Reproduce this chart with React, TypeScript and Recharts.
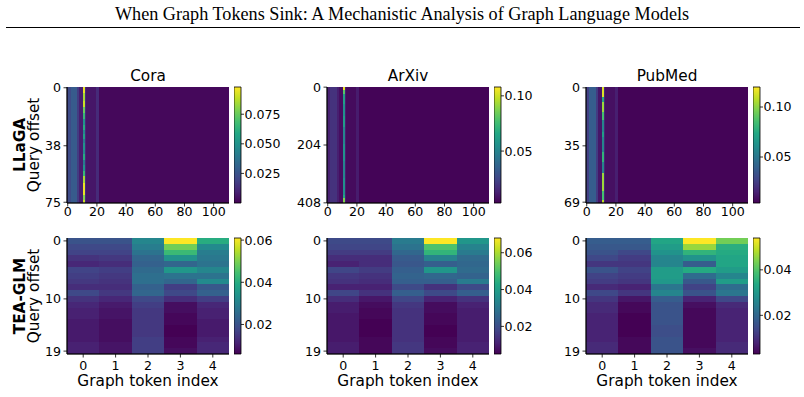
import { ComposedChart, XAxis, YAxis, ReferenceArea, ReferenceLine } from 'recharts';

// viridis colormap stops
const VIRIDIS = ['#440154', '#482475', '#414487', '#355f8d', '#2a788e', '#21918c', '#22a884', '#44bf70', '#7ad151', '#bddf26', '#fde725'];

// ---- LLaGA (top row): column bands [firstCol, lastCol, value]
const coraCols = [
  [0, 0, 0.017], [1, 2, 0.022], [3, 6, 0.028], [7, 7, 0.017], [8, 10, 0.008], [11, 11, 0.06],
  [12, 12, 0.012], [13, 19, 0.006], [20, 21, 0.012], [22, 110, 0.002],
];
const arxivCols = [
  [0, 1, 0.013], [2, 6, 0.018], [7, 7, 0.012], [8, 10, 0.007], [11, 11, 0.06],
  [12, 12, 0.012], [13, 19, 0.006], [20, 21, 0.011], [22, 110, 0.004],
];
const pubmedCols = [
  [0, 1, 0.026], [2, 6, 0.038], [7, 7, 0.024], [8, 10, 0.011], [11, 11, 0.08],
  [12, 12, 0.016], [13, 19, 0.009], [20, 21, 0.014], [22, 110, 0.005],
];

// sink token column (index 11): [firstRow, lastRow, value]
const coraSink = [
  [0, 3, 0.095], [4, 8, 0.085], [9, 12, 0.09], [13, 16, 0.075], [17, 20, 0.065], [21, 24, 0.05],
  [25, 27, 0.06], [28, 30, 0.045], [31, 33, 0.055], [34, 36, 0.04], [37, 40, 0.05], [41, 43, 0.045],
  [44, 47, 0.06], [48, 50, 0.04], [51, 54, 0.05], [55, 57, 0.065], [58, 62, 0.085], [63, 70, 0.095],
  [71, 73, 0.08], [74, 75, 0.09],
];
const arxivSink = [
  [0, 10, 0.105], [11, 25, 0.08], [26, 60, 0.062], [61, 100, 0.055], [101, 140, 0.06], [141, 200, 0.05],
  [201, 260, 0.056], [261, 320, 0.05], [321, 380, 0.055], [381, 392, 0.066], [393, 408, 0.088],
];
const pubmedSink = [
  [0, 5, 0.114], [6, 8, 0.074], [9, 14, 0.103], [15, 19, 0.085], [20, 26, 0.056], [27, 29, 0.068],
  [30, 38, 0.056], [39, 44, 0.079], [45, 51, 0.056], [52, 62, 0.103], [63, 67, 0.085], [68, 69, 0.108],
];

// ---- TEA-GLM (bottom row): rows 0..19 x graph tokens 0..4
const coraGrid = [
  [0.020, 0.020, 0.031, 0.061, 0.040],
  [0.018, 0.018, 0.029, 0.049, 0.032],
  [0.017, 0.017, 0.027, 0.043, 0.029],
  [0.014, 0.015, 0.024, 0.034, 0.028],
  [0.012, 0.013, 0.023, 0.024, 0.027],
  [0.017, 0.016, 0.025, 0.035, 0.031],
  [0.016, 0.015, 0.026, 0.027, 0.027],
  [0.015, 0.014, 0.026, 0.024, 0.032],
  [0.013, 0.013, 0.023, 0.016, 0.021],
  [0.018, 0.015, 0.024, 0.018, 0.023],
  [0.014, 0.012, 0.018, 0.013, 0.016],
  [0.012, 0.010, 0.016, 0.008, 0.012],
  [0.011, 0.009, 0.015, 0.008, 0.011],
  [0.011, 0.009, 0.015, 0.007, 0.011],
  [0.010, 0.008, 0.015, 0.007, 0.010],
  [0.010, 0.008, 0.015, 0.006, 0.010],
  [0.010, 0.008, 0.015, 0.006, 0.010],
  [0.010, 0.008, 0.016, 0.007, 0.011],
  [0.011, 0.009, 0.016, 0.007, 0.012],
  [0.011, 0.009, 0.016, 0.008, 0.012],
];
const arxivGrid = [
  [0.019, 0.019, 0.031, 0.068, 0.038],
  [0.018, 0.018, 0.029, 0.050, 0.033],
  [0.016, 0.016, 0.026, 0.046, 0.031],
  [0.013, 0.013, 0.023, 0.033, 0.027],
  [0.011, 0.013, 0.022, 0.024, 0.026],
  [0.018, 0.016, 0.024, 0.038, 0.027],
  [0.015, 0.014, 0.025, 0.026, 0.025],
  [0.014, 0.013, 0.024, 0.024, 0.031],
  [0.011, 0.011, 0.019, 0.014, 0.019],
  [0.018, 0.014, 0.024, 0.019, 0.024],
  [0.013, 0.009, 0.018, 0.011, 0.014],
  [0.010, 0.007, 0.015, 0.007, 0.011],
  [0.010, 0.006, 0.014, 0.007, 0.010],
  [0.009, 0.006, 0.014, 0.006, 0.010],
  [0.009, 0.005, 0.014, 0.006, 0.010],
  [0.009, 0.005, 0.014, 0.005, 0.010],
  [0.009, 0.005, 0.014, 0.005, 0.010],
  [0.009, 0.006, 0.014, 0.006, 0.010],
  [0.010, 0.006, 0.015, 0.006, 0.011],
  [0.010, 0.006, 0.015, 0.007, 0.011],
];
const pubmedGrid = [
  [0.018, 0.018, 0.033, 0.054, 0.043],
  [0.017, 0.017, 0.031, 0.046, 0.035],
  [0.016, 0.014, 0.029, 0.036, 0.034],
  [0.014, 0.012, 0.026, 0.029, 0.033],
  [0.011, 0.011, 0.026, 0.018, 0.033],
  [0.016, 0.013, 0.031, 0.034, 0.031],
  [0.013, 0.012, 0.031, 0.021, 0.026],
  [0.012, 0.011, 0.030, 0.017, 0.031],
  [0.009, 0.008, 0.023, 0.013, 0.021],
  [0.014, 0.011, 0.026, 0.016, 0.023],
  [0.011, 0.006, 0.018, 0.008, 0.014],
  [0.009, 0.004, 0.016, 0.005, 0.009],
  [0.009, 0.004, 0.016, 0.004, 0.008],
  [0.008, 0.003, 0.016, 0.004, 0.008],
  [0.008, 0.003, 0.016, 0.004, 0.008],
  [0.008, 0.003, 0.015, 0.004, 0.008],
  [0.008, 0.003, 0.015, 0.004, 0.008],
  [0.008, 0.004, 0.016, 0.004, 0.008],
  [0.009, 0.004, 0.016, 0.004, 0.009],
  [0.009, 0.004, 0.016, 0.005, 0.009],
];

const datasets = ['Cora', 'ArXiv', 'PubMed'];
const topRows = [76, 409, 70];
const topYTicks = [[0, 38, 75], [0, 204, 408], [0, 35, 69]];
const topXTicks = [0, 20, 40, 60, 80, 100];
const bottomXTicks = [0, 1, 2, 3, 4];
const bottomYTicks = [0, 10, 19];
const topRange = [[0, 0.098], [0.003, 0.108], [0.004, 0.12]];
const bottomRange = [[0.006, 0.061], [0.005, 0.068], [0.003, 0.054]];
const topCbTicks = [[0.025, 0.05, 0.075], [0.05, 0.1], [0.05, 0.1]];
const topCbDigits = [3, 2, 2];
const bottomCbTicks = [[0.02, 0.04, 0.06], [0.02, 0.04, 0.06], [0.02, 0.04]];

const panelLeft = [67, 327, 586];
const PW = 162;
const PH = 116;
const TOP_Y = 87;
const BOT_Y = 238;
const CB_STEPS = 116;
const FONT = 'DejaVu Sans';
const TICK = { fill: '#000', fontSize: 12.6, fontFamily: FONT };

function viridis(t: number) {
  const c = Math.max(0, Math.min(1, t)) * (VIRIDIS.length - 1);
  const i = Math.min(Math.floor(c), VIRIDIS.length - 2);
  const f = c - i;
  const a = VIRIDIS[i], b = VIRIDIS[i + 1];
  const ch = (s: string, k: number) => parseInt(s.slice(1 + 2 * k, 3 + 2 * k), 16);
  const mix = [0, 1, 2].map((k) => Math.round(ch(a, k) + (ch(b, k) - ch(a, k)) * f));
  return `rgb(${mix.join(',')})`;
}

type Cell = [number, number, number, number, number]; // c0, c1, r0, r1, value

const crisp = (fill: string) => (p: any) => (
  <rect x={p.x} y={p.y} width={p.width} height={p.height} fill={fill} shapeRendering="crispEdges" />
);

function Heatmap({ left, top, cols, rows, cells, range, xTicks, yTicks, xPad }: any) {
  const [vmin, vmax] = range;
  return (
    <div style={{ position: 'absolute', left: left - 40, top: top - 8 }}>
      <ComposedChart width={40 + PW + 8} height={8 + PH + 30} margin={{ top: 8, right: 8, bottom: 0, left: 0 }}>
        <XAxis type="number" dataKey="x" domain={[-0.5, cols - 0.5]} allowDataOverflow ticks={xTicks} interval={0}
          height={30} tick={TICK} tickSize={3.5} tickMargin={xPad} stroke="#000" strokeWidth={0.8} />
        <YAxis type="number" dataKey="y" domain={[-0.5, rows - 0.5]} allowDataOverflow reversed ticks={yTicks} interval={0}
          width={40} tick={TICK} tickSize={3.5} tickMargin={2.5} stroke="#000" strokeWidth={0.8} />
        {cells.map((c: Cell, i: number) => (
          <ReferenceArea key={i} x1={c[0] - 0.5} x2={c[1] + 0.5} y1={c[2] - 0.5} y2={c[3] + 0.5}
            ifOverflow="visible" shape={crisp(viridis((c[4] - vmin) / (vmax - vmin)))} />
        ))}
        <ReferenceLine x={-0.5} stroke="#000" strokeWidth={0.8} />
        <ReferenceLine y={rows - 0.5} stroke="#000" strokeWidth={0.8} />
      </ComposedChart>
    </div>
  );
}

function ColorBar({ left, top, range, ticks, digits }: any) {
  const [vmin, vmax] = range;
  const step = (vmax - vmin) / CB_STEPS;
  const slices = Array.from({ length: CB_STEPS }, (_, k) => k);
  return (
    <div style={{ position: 'absolute', left, top: top - 8 }}>
      <ComposedChart width={7 + 55} height={PH + 16} margin={{ top: 8, right: 0, bottom: 8, left: 0 }}>
        <XAxis type="number" dataKey="x" domain={[0, 1]} allowDataOverflow height={0} tick={false} axisLine={false} tickLine={false} />
        <YAxis type="number" dataKey="y" orientation="right" domain={[vmin, vmax]} allowDataOverflow ticks={ticks} interval={0}
          width={55} tick={TICK} tickSize={3} tickMargin={0.5} axisLine={false} stroke="#000" strokeWidth={0.8}
          tickFormatter={(v: number) => v.toFixed(digits)} />
        {slices.map((k) => (
          <ReferenceArea key={k} x1={0} x2={1} y1={vmin + k * step} y2={vmin + (k + 1) * step}
            ifOverflow="visible" shape={crisp(viridis((k + 0.5) / CB_STEPS))} />
        ))}
        <ReferenceArea x1={0} x2={1} y1={vmin} y2={vmax} ifOverflow="visible" fill="none" fillOpacity={0} stroke="#000" strokeWidth={0.8} />
      </ComposedChart>
    </div>
  );
}

const topCols = [coraCols, arxivCols, pubmedCols];
const topSinks = [coraSink, arxivSink, pubmedSink];
const bottomGrids = [coraGrid, arxivGrid, pubmedGrid];

export default function App() {
  return (
    <div style={{ position: 'absolute', left: 0, top: 0, width: 804, height: 397, background: '#fff', overflow: 'hidden' }}>
      {datasets.map((name, d) => {
        const rows = topRows[d];
        const cells: Cell[] = [
          ...topCols[d].map((s) => [s[0], s[1], 0, rows - 1, s[2]] as Cell),
          ...topSinks[d].map((s) => [11, 11, s[0], s[1], s[2]] as Cell),
        ];
        const grid: Cell[] = [];
        bottomGrids[d].forEach((row, r) => row.forEach((v, c) => grid.push([c, c, r, r, v])));
        return (
          <div key={name}>
            <Heatmap left={panelLeft[d]} top={TOP_Y} cols={111} rows={rows} cells={cells} range={topRange[d]}
              xTicks={topXTicks} yTicks={topYTicks[d]} xPad={0.5} />
            <ColorBar left={panelLeft[d] + PW + 5} top={TOP_Y} range={topRange[d]} ticks={topCbTicks[d]}
              digits={topCbDigits[d]} />
            <Heatmap left={panelLeft[d]} top={BOT_Y} cols={5} rows={20} cells={grid} range={bottomRange[d]}
              xTicks={bottomXTicks} yTicks={bottomYTicks} xPad={3.5} />
            <ColorBar left={panelLeft[d] + PW + 5} top={BOT_Y} range={bottomRange[d]} ticks={bottomCbTicks[d]}
              digits={2} />
          </div>
        );
      })}
      <svg width={804} height={397} style={{ position: 'absolute', left: 0, top: 0, pointerEvents: 'none' }}>
        <text x={402} y={20} textAnchor="middle" fontFamily="Liberation Serif" fontSize={18.2} fill="#000">
          When Graph Tokens Sink: A Mechanistic Analysis of Graph Language Models
        </text>
        <line x1={6} x2={800} y1={27.5} y2={27.5} stroke="#000" strokeWidth={1} />
        {datasets.map((name, d) => (
          <g key={name}>
            <text x={panelLeft[d] + PW / 2} y={81} textAnchor="middle" fontFamily={FONT} fontSize={15.3} fill="#000">{name}</text>
            <text x={panelLeft[d] + PW / 2} y={386} textAnchor="middle" fontFamily={FONT} fontSize={15.3} fill="#000">Graph token index</text>
          </g>
        ))}
        <text transform={`translate(25, ${TOP_Y + PH / 2}) rotate(-90)`} textAnchor="middle" fontFamily={FONT} fontWeight="bold" fontSize={15.3} fill="#000">LLaGA</text>
        <text transform={`translate(39, ${TOP_Y + PH / 2}) rotate(-90)`} textAnchor="middle" fontFamily={FONT} fontSize={15.3} fill="#000">Query offset</text>
        <text transform={`translate(25, ${BOT_Y + PH / 2}) rotate(-90)`} textAnchor="middle" fontFamily={FONT} fontWeight="bold" fontSize={15.3} fill="#000">TEA-GLM</text>
        <text transform={`translate(39, ${BOT_Y + PH / 2}) rotate(-90)`} textAnchor="middle" fontFamily={FONT} fontSize={15.3} fill="#000">Query offset</text>
      </svg>
    </div>
  );
}
